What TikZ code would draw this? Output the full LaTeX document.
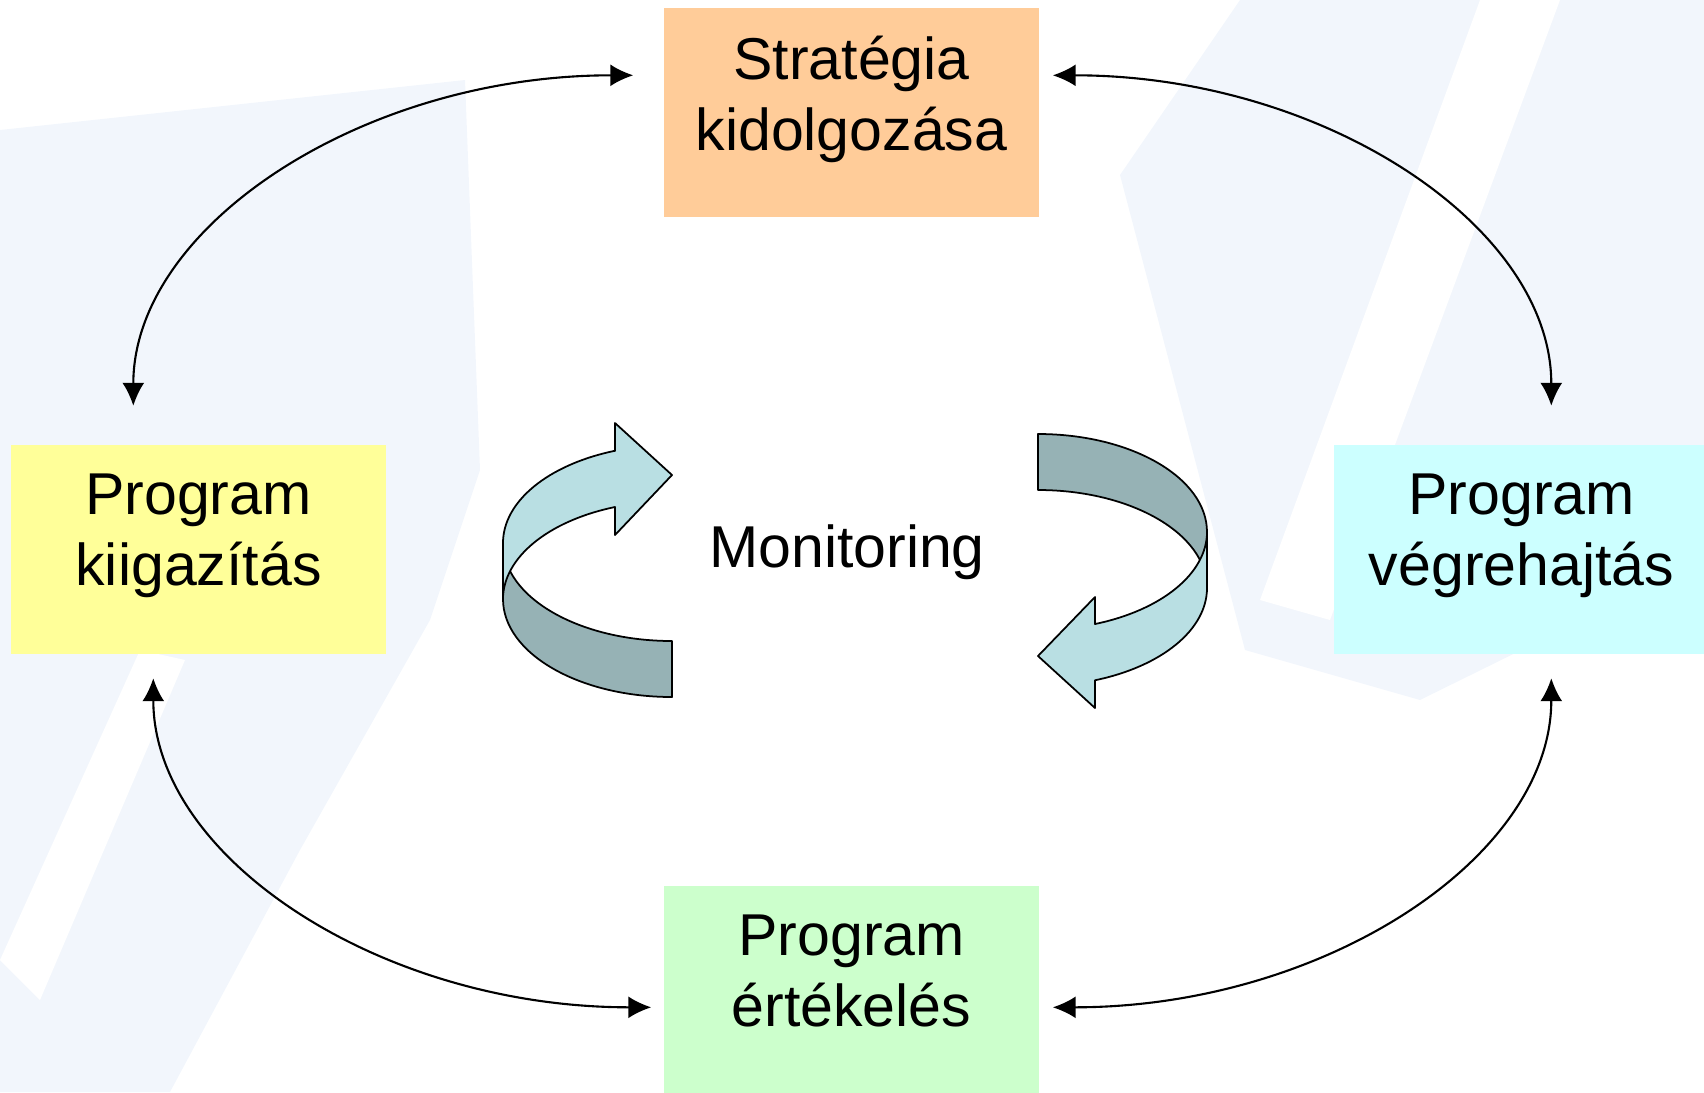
\documentclass[tikz,border=0pt]{standalone}
\usepackage{fontspec}
\setmainfont{Liberation Sans}
\usetikzlibrary{arrows.meta,calc}

\definecolor{stratfill}{RGB}{255,204,153}
\definecolor{adjustfill}{RGB}{255,255,153}
\definecolor{executefill}{RGB}{204,255,255}
\definecolor{evaluatefill}{RGB}{204,255,204}
\definecolor{ribbonlight}{RGB}{185,223,227}
\definecolor{ribbondark}{RGB}{150,178,181}
\definecolor{wmark}{RGB}{242,246,252}

\tikzset{
    stage/.style={rectangle, inner sep=0pt, minimum width=37.5mm, minimum height=20.9mm,
        align=center, font=\fontsize{16.8}{20.2}\selectfont,
        execute at end node=\rule[-3.9mm]{0pt}{0pt}},
    link/.style={line width=0.6pt, {Latex[length=2.3mm,width=2.2mm]}-{Latex[length=2.3mm,width=2.2mm]}},
    ribbon/.style={draw=black, line width=0.5pt, line join=round}
}

\begin{document}
\begin{tikzpicture}[x=0.1mm, y=-0.1mm]
    \clip (0,0) rectangle (1704,1092);

    % watermark
    \fill[wmark] (0,130) -- (465,80) -- (480,470) -- (430,620) -- (300,850) -- (170,1092) -- (0,1092) -- cycle;
    \fill[white] (0,960) -- (140,650) -- (185,660) -- (40,1000) -- cycle;
    \fill[wmark] (1120,175) -- (1240,0) -- (1704,0) -- (1704,560) -- (1420,700) -- (1245,650) -- cycle;
    \fill[white] (1480,0) -- (1560,0) -- (1330,620) -- (1260,600) -- cycle;

    % stages
    \node[stage, fill=stratfill] (strategy) at (851.5,112.5) {Stratégia\\kidolgozása};
    \node[stage, fill=adjustfill] (adjust) at (198.5,549) {Program\\kiigazítás};
    \node[stage, fill=executefill] (execute) at (1521.5,549) {Program\\végrehajtás};
    \node[stage, fill=evaluatefill] (evaluate) at (851.5,990.5) {Program\\értékelés};
    \node[font=\fontsize{16.8}{20.2}\selectfont, anchor=base] (monitor) at (847,567) {Monitoring};

    % cycle links
    \draw[link] ($(strategy.north west)+(-30,68)$) .. controls +(-270,0) and +(0,-180) .. ($(adjust.north west)+(123,-38)$);
    \draw[link] ($(strategy.north east)+(13,68)$) .. controls +(270,0) and +(0,-180) .. ($(execute.north west)+(218,-38)$);
    \draw[link] ($(adjust.south west)+(143,24)$) .. controls +(0,180) and +(-270,0) .. ($(evaluate.north west)+(-12,122)$);
    \draw[link] ($(execute.south west)+(218,24)$) .. controls +(0,180) and +(270,0) .. ($(evaluate.north east)+(13,122)$);

    % left ribbon arrow
    \draw[ribbon, fill=ribbondark] (503,543) -- (503,599)
        arc[start angle=180, end angle=90, x radius=169, y radius=98]
        -- (672,641)
        arc[start angle=90, end angle=180, x radius=169, y radius=98] -- cycle;
    \draw[ribbon, fill=ribbonlight] (615,451) -- (615,423) -- (672,475) -- (615,535) -- (615,507)
        arc[start angle=250.3, end angle=180, x radius=169, y radius=98]
        -- (503,543)
        arc[start angle=180, end angle=250.3, x radius=169, y radius=98] -- cycle;

    % right ribbon arrow
    \draw[ribbon, fill=ribbondark] (1038,434) -- (1038,490)
        arc[start angle=270, end angle=360, x radius=169, y radius=98]
        -- (1207,532)
        arc[start angle=360, end angle=270, x radius=169, y radius=98] -- cycle;
    \draw[ribbon, fill=ribbonlight] (1207,532) -- (1207,588)
        arc[start angle=0, end angle=70.3, x radius=169, y radius=98]
        -- (1095,708) -- (1038,656) -- (1095,597) -- (1095,624)
        arc[start angle=70.3, end angle=0, x radius=169, y radius=98] -- cycle;
\end{tikzpicture}
\end{document}
